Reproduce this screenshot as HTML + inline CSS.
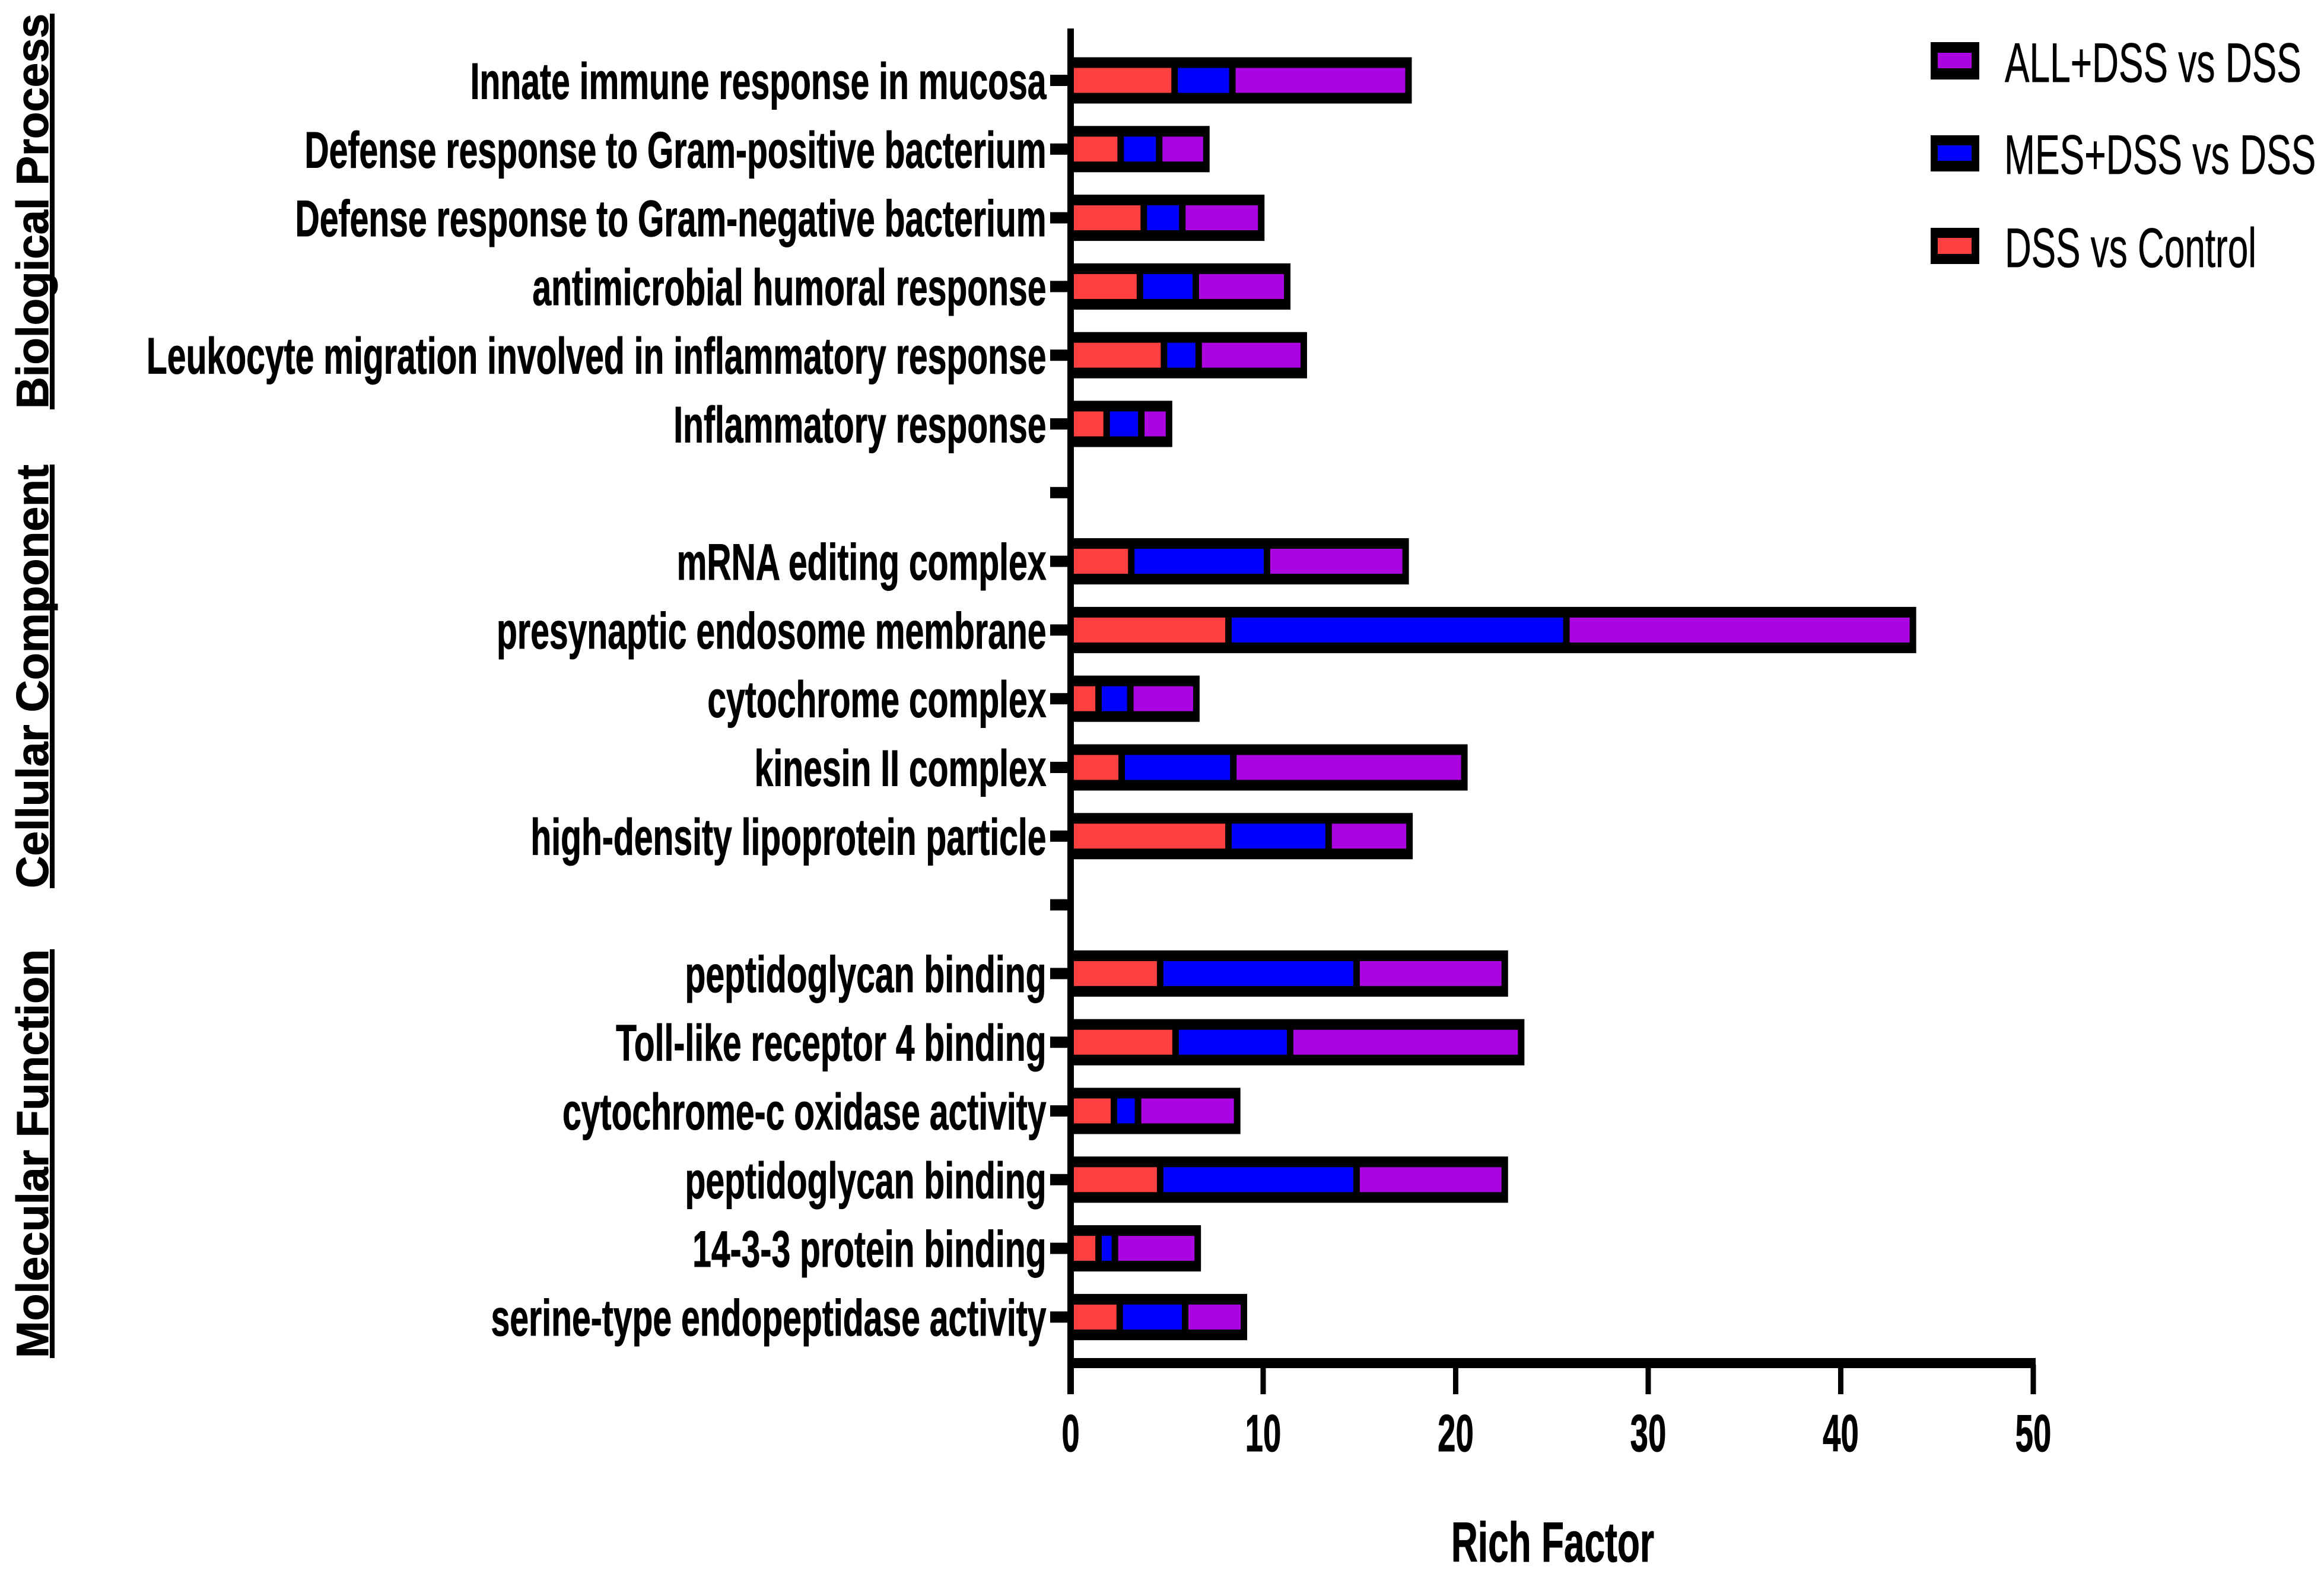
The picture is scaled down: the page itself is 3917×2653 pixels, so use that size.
<!DOCTYPE html>
<html lang="en">
<head>
<meta charset="utf-8">
<title>Rich Factor chart</title>
<style>
html,body{margin:0;padding:0;background:#fff;}
svg{display:block;}
text{font-family:"Liberation Sans",sans-serif;fill:#000;}
.b{font-weight:700;stroke:#000;stroke-width:1;}
.r{stroke:#000;stroke-width:0.7;}
</style>
</head>
<body>
<svg id="chart" xmlns="http://www.w3.org/2000/svg" width="3917" height="2653" viewBox="0 0 3917 2653">
  <rect x="0" y="0" width="3917" height="2653" fill="#fff"/>
  <g id="bars"></g>
  <g id="yaxis"></g>
  <g id="xaxis"></g>

  <text class="b" font-size="76" transform="translate(81,689) rotate(-90)" textLength="666" lengthAdjust="spacingAndGlyphs">Biological Process</text>
  <rect x="84" y="23" width="8" height="667" fill="#000"/>
  <text class="b" font-size="76" transform="translate(81,1497) rotate(-90)" textLength="714" lengthAdjust="spacingAndGlyphs">Cellular Component</text>
  <rect x="84" y="783" width="8" height="714" fill="#000"/>
  <text class="b" font-size="76" transform="translate(81,2289) rotate(-90)" textLength="689" lengthAdjust="spacingAndGlyphs">Molecular Function</text>
  <rect x="84" y="1600" width="8" height="689" fill="#000"/>

  <text class="b" font-size="95" text-anchor="middle" transform="translate(2617,2632) scale(0.655,1)">Rich Factor</text>

  <g>
    <g>
      <rect x="3254" y="71" width="82" height="63" fill="#000"/>
      <rect x="3266" y="89" width="57" height="26" fill="#AB04E0"/>
      <text class="r" font-size="94" transform="translate(3379,138) scale(0.662,1)">ALL+DSS vs DSS</text>
    </g>
    <g>
      <rect x="3254" y="228" width="82" height="61" fill="#000"/>
      <rect x="3266" y="245" width="57" height="26" fill="#0000FF"/>
      <text class="r" font-size="94" transform="translate(3378,293) scale(0.664,1)">MES+DSS vs DSS</text>
    </g>
    <g>
      <rect x="3254" y="384" width="82" height="61" fill="#000"/>
      <rect x="3266" y="401" width="57" height="27" fill="#FF4040"/>
      <text class="r" font-size="94" transform="translate(3379,450) scale(0.66,1)">DSS vs Control</text>
    </g>
  </g>
</svg>
<script>
var categories = [
  "Innate immune response in mucosa",
  "Defense response to Gram-positive bacterium",
  "Defense response to Gram-negative bacterium",
  "antimicrobial humoral response",
  "Leukocyte migration involved in inflammatory response",
  "Inflammatory response",
  "",
  "mRNA editing complex",
  "presynaptic endosome membrane",
  "cytochrome complex",
  "kinesin II complex",
  "high-density lipoprotein particle",
  "",
  "peptidoglycan binding",
  "Toll-like receptor 4 binding",
  "cytochrome-c oxidase activity",
  "peptidoglycan binding",
  "14-3-3 protein binding",
  "serine-type endopeptidase activity"
];
var dssVsControl = [5.4, 2.6, 3.8, 3.6, 4.85, 1.87, null, 3.15, 8.2, 1.45, 2.65, 8.2, null, 4.65, 5.45, 2.25, 4.65, 1.45, 2.55];
var mesDssVsDss = [3.0, 2.0, 2.0, 2.9, 1.8, 1.8, null, 7.05, 17.55, 1.65, 5.8, 5.2, null, 10.2, 5.95, 1.25, 10.2, 0.85, 3.4];
var allDssVsDss = [9.15, 2.45, 4.1, 4.75, 5.46, 1.44, null, 7.2, 18.0, 3.43, 12.0, 4.2, null, 7.7, 12.0, 5.15, 7.7, 4.3, 3.05];
var xTickValues = [0, 10, 20, 30, 40, 50];

var NS = "http://www.w3.org/2000/svg";
function xScale(v) { return 1804.5 + v * 32.45; }
function yBand(i) { return 135.5 + i * 115.8; }
function makeRect(parent, x, y, w, h, fill) {
  var r = document.createElementNS(NS, "rect");
  r.setAttribute("x", x);
  r.setAttribute("y", y);
  r.setAttribute("width", w);
  r.setAttribute("height", h);
  r.setAttribute("fill", fill);
  parent.appendChild(r);
  return r;
}
var barsG = document.getElementById("bars");
var yG = document.getElementById("yaxis");
var xG = document.getElementById("xaxis");
var BORDER = 5.5;

categories.forEach(function (label, i) {
  var cy = yBand(i);
  var tick = makeRect(yG, 1770, cy - 9.5, 32, 19, "#000");
  
  
  if (dssVsControl[i] === null) { return; }

  var t = document.createElementNS(NS, "text");
  
  
  t.setAttribute("class", "b");
  t.setAttribute("font-size", "86");
  t.setAttribute("text-anchor", "end");
  t.setAttribute("transform", "translate(1763.5," + (cy + 31) + ") scale(0.664,1)");
  t.textContent = label;
  yG.appendChild(t);

  var c1 = dssVsControl[i];
  var c2 = c1 + mesDssVsDss[i];
  var c3 = c2 + allDssVsDss[i];

  var outline = makeRect(barsG, xScale(0), cy - 39, xScale(c3) + BORDER - xScale(0), 78, "#000");
  
  

  var red = makeRect(barsG, xScale(0) + BORDER, cy - 21, xScale(c1) - xScale(0) - 2 * BORDER, 42, "#FF4040");
  
  

  var blue = makeRect(barsG, xScale(c1) + BORDER, cy - 21, xScale(c2) - xScale(c1) - 2 * BORDER, 42, "#0000FF");
  
  

  var purple = makeRect(barsG, xScale(c2) + BORDER, cy - 21, xScale(c3) - xScale(c2) - 2 * BORDER, 42, "#AB04E0");
  
  
});

var yLine = makeRect(yG, 1799, 48, 11, 2302, "#000");



var xLine = makeRect(xG, 1799, 2289, 1632, 17, "#000");



xTickValues.forEach(function (v) {
  var px = xScale(v);
  var tk = makeRect(xG, px - 4.5, 2300, 9, 50, "#000");
  
  
  var tl = document.createElementNS(NS, "text");
  
  
  tl.setAttribute("class", "b");
  tl.setAttribute("font-size", "88");
  tl.setAttribute("text-anchor", "middle");
  tl.setAttribute("transform", "translate(" + px + ",2446) scale(0.62,1)");
  tl.textContent = String(v);
  xG.appendChild(tl);
});
</script>
</body>
</html>
